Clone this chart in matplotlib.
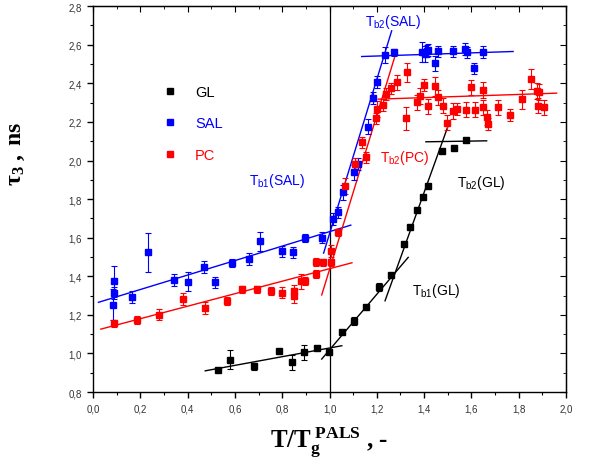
import matplotlib
matplotlib.use('Agg')
import matplotlib.pyplot as plt
from matplotlib.lines import Line2D
from matplotlib.ticker import MultipleLocator, FuncFormatter

# ── Données ──────────────────────────────────────────────
gl_x = [0.530, 0.577, 0.682, 0.786, 0.841, 0.894, 0.946, 0.997, 1.052, 1.102,
        1.156, 1.211, 1.261, 1.314, 1.340, 1.369, 1.395, 1.418, 1.476, 1.526, 1.576]
gl_y = [0.916, 0.967, 0.933, 1.014, 0.954, 1.006, 1.028, 1.006, 1.112, 1.168,
        1.240, 1.344, 1.405, 1.568, 1.656, 1.745, 1.810, 1.869, 2.050, 2.064, 2.106]
gl_err = [0.01, 0.05, 0.02, 0.01, 0.04, 0.04, 0.01, 0.01, 0.01, 0.02,
          0.01, 0.02, 0.01, 0.01, 0.01, 0.01, 0.01, 0.01, 0.01, 0.01, 0.01]

sal_x = [0.082, 0.086, 0.090, 0.163, 0.233, 0.341, 0.399, 0.469, 0.516, 0.588,
         0.658, 0.706, 0.799, 0.847, 0.895, 0.968, 1.013, 1.037, 1.058, 1.105,
         1.119, 1.164, 1.185, 1.199, 1.235, 1.273, 1.392, 1.404, 1.411, 1.418,
         1.446, 1.460, 1.523, 1.573, 1.580, 1.611, 1.650]
sal_y = [1.252, 1.313, 1.374, 1.294, 1.524, 1.380, 1.372, 1.448, 1.368, 1.470,
         1.491, 1.581, 1.529, 1.524, 1.600, 1.600, 1.698, 1.731, 1.835, 1.938,
         1.983, 2.175, 2.323, 2.408, 2.546, 2.560, 2.563, 2.551, 2.568, 2.572,
         2.503, 2.565, 2.565, 2.577, 2.560, 2.477, 2.563]
sal_err = [0.08, 0.03, 0.08, 0.03, 0.10, 0.03, 0.05, 0.03, 0.03, 0.02,
           0.03, 0.05, 0.03, 0.03, 0.02, 0.03, 0.03, 0.03, 0.04, 0.04,
           0.03, 0.04, 0.03, 0.03, 0.04, 0.02, 0.05, 0.04, 0.03, 0.03,
           0.04, 0.03, 0.03, 0.03, 0.03, 0.03, 0.03]

pc_x = [0.086, 0.186, 0.280, 0.378, 0.471, 0.565, 0.629, 0.692, 0.753, 0.799,
        0.849, 0.851, 0.880, 0.898, 0.943, 0.943, 0.974, 1.005, 1.008, 1.037,
        1.066, 1.108, 1.136, 1.153, 1.197, 1.202, 1.227, 1.238, 1.259, 1.284,
        1.323, 1.329, 1.369, 1.383, 1.400, 1.415, 1.446, 1.460, 1.481, 1.498,
        1.521, 1.540, 1.576, 1.598, 1.615, 1.650, 1.650, 1.665, 1.671, 1.711,
        1.763, 1.813, 1.851, 1.876, 1.883, 1.887, 1.908]
pc_y = [1.156, 1.175, 1.201, 1.282, 1.235, 1.271, 1.332, 1.332, 1.322, 1.315,
        1.325, 1.299, 1.374, 1.374, 1.413, 1.475, 1.472, 1.472, 1.532, 1.627,
        1.869, 1.981, 2.094, 2.016, 2.218, 2.266, 2.287, 2.344, 2.374, 2.405,
        2.218, 2.457, 2.301, 2.335, 2.391, 2.280, 2.384, 2.327, 2.284, 2.197,
        2.257, 2.266, 2.263, 2.379, 2.263, 2.275, 2.366, 2.223, 2.189, 2.275,
        2.235, 2.318, 2.422, 2.361, 2.284, 2.356, 2.275]
pc_err = [0.02, 0.02, 0.03, 0.03, 0.03, 0.02, 0.02, 0.02, 0.02, 0.03,
          0.03, 0.04, 0.04, 0.02, 0.02, 0.02, 0.02, 0.02, 0.03, 0.02,
          0.04, 0.03, 0.03, 0.03, 0.03, 0.04, 0.03, 0.03, 0.03, 0.04,
          0.06, 0.05, 0.04, 0.04, 0.03, 0.04, 0.05, 0.04, 0.04, 0.04,
          0.04, 0.03, 0.04, 0.04, 0.04, 0.04, 0.04, 0.04, 0.03, 0.04,
          0.03, 0.05, 0.05, 0.04, 0.04, 0.04, 0.04]

# droites d'ajustement (x, y des extrémités)
fits = [
    ('k', [0.474, 1.052], [0.910, 1.040]),
    ('k', [0.967, 1.333], [0.971, 1.498]),
    ('k', [1.235, 1.502], [1.273, 2.180]),
    ('k', [1.408, 1.665], [2.097, 2.102]),
    ('#0000ff', [0.022, 1.090], [1.265, 1.665]),
    ('#0000ff', [0.975, 1.263], [1.520, 2.672]),
    ('#0000ff', [1.136, 1.777], [2.539, 2.565]),
    ('#ff0000', [0.032, 1.095], [1.126, 1.470]),
    ('#ff0000', [0.967, 1.277], [1.303, 2.541]),
    ('#ff0000', [1.206, 1.961], [2.318, 2.349]),
]

series = [('GL', gl_x, gl_y, gl_err, 'k'),
          ('SAL', sal_x, sal_y, sal_err, '#0000ff'),
          ('PC', pc_x, pc_y, pc_err, '#ff0000')]

# ── Figure ────────────────────────────────────────────────
plt.rcParams['font.family'] = 'Liberation Sans'
plt.rcParams['mathtext.fontset'] = 'custom'
plt.rcParams['mathtext.rm'] = 'Liberation Serif'
plt.rcParams['mathtext.bf'] = 'Liberation Serif:bold'
plt.rcParams['mathtext.it'] = 'Liberation Serif:italic'

fig = plt.figure(figsize=(5.9, 4.77), dpi=100)
ax = fig.add_axes([0.158, 0.176, 0.801, 0.809])

for color, xs, ys in fits:
    ax.plot(xs, ys, color=color, lw=1.0, zorder=2)

for name, xs, ys, err, c in series:
    ax.errorbar(xs, ys, yerr=err, fmt='s', color=c, ms=5, elinewidth=0.8,
                capsize=2.5, capthick=0.8, zorder=3)

ax.axvline(1.0, color='k', lw=0.9, zorder=1)

ax.set_xlim(0, 2.0)
ax.set_ylim(0.8, 2.8)
comma = FuncFormatter(lambda v, p: f'{v:.1f}'.replace('.', ','))
ax.xaxis.set_major_locator(MultipleLocator(0.2))
ax.xaxis.set_minor_locator(MultipleLocator(0.1))
ax.yaxis.set_major_locator(MultipleLocator(0.2))
ax.yaxis.set_minor_locator(MultipleLocator(0.1))
ax.xaxis.set_major_formatter(comma)
ax.yaxis.set_major_formatter(comma)
ax.tick_params(which='major', direction='out', length=4, width=1, labelsize=7,
               pad=4, labelcolor='#333333')
ax.tick_params(which='minor', direction='out', length=2, width=0.8)
for sp in ax.spines.values():
    sp.set_linewidth(1.0)

# ticks intérieurs en haut et à droite
top = ax.secondary_xaxis('top')
top.xaxis.set_major_locator(MultipleLocator(0.2))
top.xaxis.set_minor_locator(MultipleLocator(0.1))
top.tick_params(which='major', direction='in', length=4, labeltop=False)
top.tick_params(which='minor', direction='in', length=2)
right = ax.secondary_yaxis('right')
right.yaxis.set_major_locator(MultipleLocator(0.2))
right.yaxis.set_minor_locator(MultipleLocator(0.1))
right.tick_params(which='major', direction='in', length=4, labelright=False)
right.tick_params(which='minor', direction='in', length=2)

ax.set_xlabel(r'$\mathbf{T/T_{g}^{\ PALS}}$ $\mathbf{,}$ -', fontsize=18,
              family='Liberation Serif', fontweight='bold', labelpad=8)
ax.set_ylabel(r'$\mathbf{\tau_{3}}$ $\mathbf{,\ ns}$', fontsize=17,
              family='Liberation Serif')
ax.yaxis.set_label_coords(-0.14, 0.62)

# légende
handles = [Line2D([], [], marker='s', ls='none', color=c, ms=5) for _, _, _, _, c in series]
leg = ax.legend(handles, [s[0] for s in series], loc='upper left',
                bbox_to_anchor=(0.12, 0.83), frameon=False, fontsize=10.5,
                labelspacing=1.2, handletextpad=1.2, handlelength=1.0)
for t, (_, _, _, _, c) in zip(leg.get_texts(), series):
    t.set_color(c)

# annotations des transitions
lab = dict(fontsize=10)
ax.text(1.15, 2.70, r'T$_{\mathregular{b2}}$(SAL)', color='#0000ff', **lab)
ax.text(0.66, 1.88, r'T$_{\mathregular{b1}}$(SAL)', color='#0000ff', **lab)
ax.text(1.215, 2.00, r'T$_{\mathregular{b2}}$(PC)', color='#ff0000', **lab)
ax.text(1.54, 1.87, r'T$_{\mathregular{b2}}$(GL)', color='k', **lab)
ax.text(1.35, 1.31, r'T$_{\mathregular{b1}}$(GL)', color='k', **lab)

plt.savefig('out.png', dpi=100)
